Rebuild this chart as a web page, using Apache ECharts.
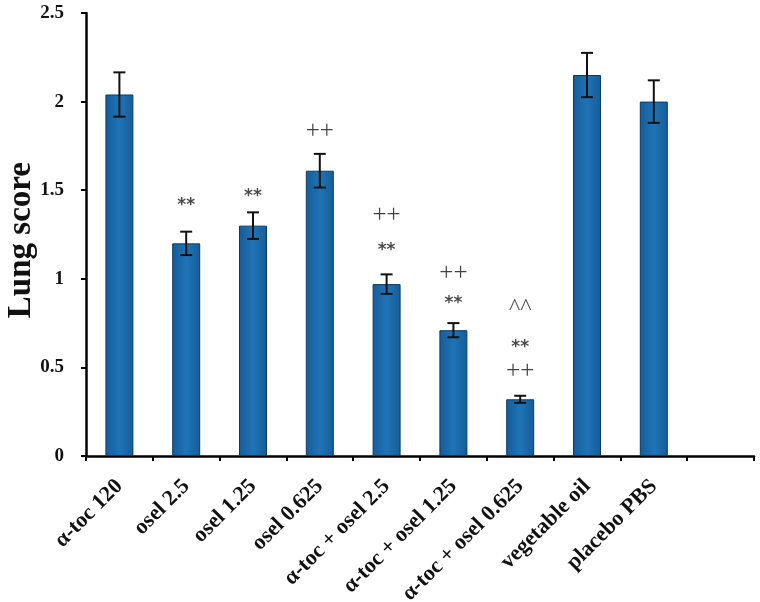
<!DOCTYPE html>
<html>
<head>
<meta charset="utf-8">
<script src="https://cdn.jsdelivr.net/npm/echarts@6/dist/echarts.min.js"></script>
<style>html,body{margin:0;padding:0;background:#fff}#c{width:760px;height:602px}</style>
</head>
<body>
<div id="c"></div>
<script>
var categories = ['α-toc 120','osel 2.5','osel 1.25','osel 0.625','α-toc + osel 2.5','α-toc + osel 1.25','α-toc + osel 0.625','vegetable oil','placebo PBS',''];
var values = [2.04, 1.20, 1.30, 1.61, 0.97, 0.71, 0.32, 2.15, 2.00];
var errors = [0.125, 0.066, 0.075, 0.095, 0.055, 0.04, 0.02, 0.125, 0.12];
var yTicks = [0, 0.5, 1, 1.5, 2, 2.5];
var yTitle = 'Lung score';
// significance marks: [category index, y level (data units), text]
var marks = [
  [1, 1.44, '**'],
  [2, 1.49, '**'],
  [3, 1.83, '++'],
  [4, 1.36, '++'],
  [4, 1.19, '**'],
  [5, 1.03, '++'],
  [5, 0.89, '**'],
  [6, 0.86, '^^'],
  [6, 0.64, '**'],
  [6, 0.48, '++']
];

var chart = echarts.init(document.getElementById('c'), null, {renderer:'canvas'});
var serif = '"Liberation Serif", "DejaVu Serif", serif';
var barColor = new echarts.graphic.LinearGradient(0,0,1,0,[
  {offset:0,color:'#165c99'},{offset:0.5,color:'#1f74b6'},{offset:1,color:'#165c99'}]);

function markLabel(t){
  if(t==='**') return {fontFamily:'"DejaVu Sans", sans-serif',fontWeight:'bold',fontSize:17,offset:[0,5],color:'#1a1a1a'};
  if(t==='^^') return {fontFamily:serif,fontSize:24,offset:[0,4],color:'#222'};
  return {fontFamily:serif,fontSize:25,offset:[0,0],color:'#111'};
}

chart.setOption({
  animation:false,
  backgroundColor:'#ffffff',
  grid:{left:86,right:6,top:13,bottom:146,containLabel:false,outerBoundsMode:'none'},
  graphic:[{type:'text',left:5,top:162,rotation:Math.PI/2,
    style:{text:yTitle,font:'bold 33px '+serif,fill:'#111'}}],
  xAxis:{
    type:'category',
    data:categories,
    axisLine:{lineStyle:{color:'#000',width:2.5}},
    axisTick:{show:true,alignWithLabel:false,length:5,lineStyle:{color:'#000',width:2}},
    axisLabel:{interval:0,rotate:45,margin:27,color:'#111',fontFamily:serif,fontWeight:'bold',fontSize:22}
  },
  yAxis:{
    type:'value',min:0,max:2.5,interval:0.5,
    axisLine:{show:true,lineStyle:{color:'#000',width:2.5}},
    axisTick:{show:true,length:5,lineStyle:{color:'#000',width:2}},
    splitLine:{show:false},
    axisLabel:{margin:22,color:'#111',fontFamily:serif,fontWeight:'bold',fontSize:19,
      formatter:function(v){return yTicks.indexOf(v)>=0?String(v):'';}}
  },
  series:[
    {type:'bar',data:values,barWidth:28,
     itemStyle:{color:barColor,borderColor:'#0c3a63',borderWidth:1}},
    {type:'custom',
     data:values.map(function(v,i){return [i,v-errors[i],v+errors[i]];}),
     renderItem:function(params,api){
       var lo=api.coord([api.value(0),api.value(1)]);
       var hi=api.coord([api.value(0),api.value(2)]);
       var x=lo[0],hw=6;
       var st={stroke:'#111',lineWidth:2};
       return {type:'group',children:[
         {type:'line',shape:{x1:x,y1:lo[1],x2:x,y2:hi[1]},style:st},
         {type:'line',shape:{x1:x-hw,y1:hi[1],x2:x+hw,y2:hi[1]},style:st},
         {type:'line',shape:{x1:x-hw,y1:lo[1],x2:x+hw,y2:lo[1]},style:st}
       ]};
     },
     z:5},
    {type:'scatter',symbolSize:0,
     data:marks.map(function(m){
       var l=markLabel(m[2]);
       return {value:[m[0],m[1]],name:m[2],
         label:{show:true,position:'inside',formatter:m[2],fontFamily:l.fontFamily,fontWeight:l.fontWeight||'normal',fontSize:l.fontSize,offset:l.offset,color:l.color}};
     }),
     z:6}
  ]
});
</script>
</body>
</html>
